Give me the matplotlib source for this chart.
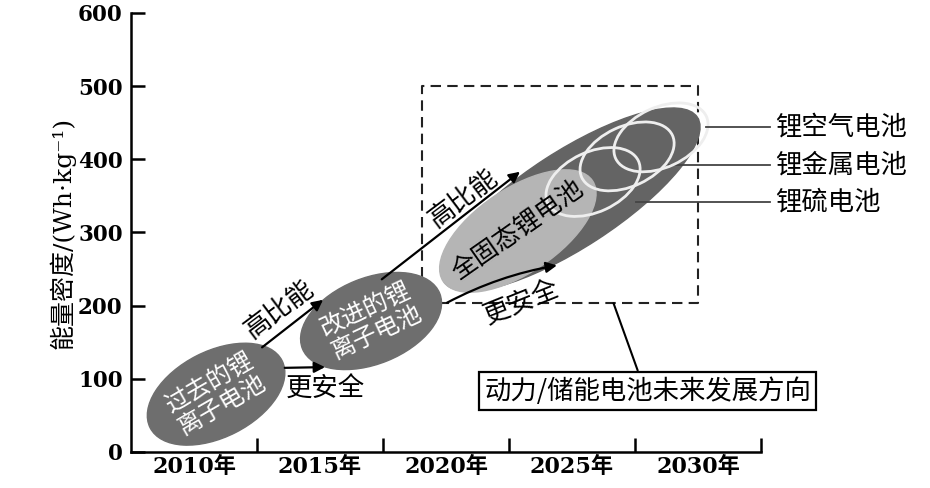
import matplotlib
matplotlib.use('Agg')
import matplotlib.pyplot as plt
from matplotlib.patches import Ellipse
from matplotlib.transforms import ScaledTranslation

plt.rcParams['font.family'] = ['DejaVu Serif', 'Noto Sans CJK SC', 'DejaVu Sans']
CJK = ['Noto Sans CJK SC', 'DejaVu Sans']

# ---- data ----
years = ['2010年', '2015年', '2020年', '2025年', '2030年']
y_ticks = [0, 100, 200, 300, 400, 500, 600]

# battery generations: (x position in year-slots, energy density Wh/kg)
gen_names = ['过去的锂\n离子电池', '改进的锂\n离子电池']
gen_x = [0.675, 1.905]
gen_y = [79, 179]

future_x = 3.49          # big dark ellipse (future directions)
future_y = 345
solid_name = '全固态锂电池'
solid_x = 3.07
solid_y = 302

ring_names = ['锂硫电池', '锂金属电池', '锂空气电池']
ring_x = [3.667, 3.937, 4.206]
ring_y = [369, 404, 430]
ring_label_y = [342, 392, 444]
ring_edge_x = [4.01, 4.27, 4.56]

# arrows: (start x, start y, end x, end y)
arrows = [
    (1.04, 143, 1.524, 208),
    (1.22, 115, 1.54, 116),
    (1.99, 236, 3.087, 383),
    (2.508, 204, 3.38, 255),
]
arrow_text = ['高比能', '更安全', '高比能', '更安全']
arrow_text_x = [1.175, 1.54, 2.635, 3.10]
arrow_text_y = [194, 86, 346, 204]
arrow_text_rot = [37, 0, 37, 22]

box_x = [2.31, 4.50]
box_y = [203, 500]
note_text = '动力/储能电池未来发展方向'
note_x, note_y = 4.10, 83
note_link = (3.83, 203, 4.02, 112)

fig = plt.figure(figsize=(9.3, 4.88), dpi=100)
ax = fig.add_axes([0.1409, 0.0738, 0.6774, 0.8996])
ax.set_xlim(0, 5)
ax.set_ylim(0, 600)

for s in ['top', 'right']:
    ax.spines[s].set_visible(False)
for s in ['left', 'bottom']:
    ax.spines[s].set_linewidth(1.8)

ax.set_yticks(y_ticks)
ax.set_yticklabels([str(v) for v in y_ticks], fontsize=15.5, fontweight='bold')
ax.tick_params(axis='y', direction='in', length=10, width=1.8, pad=6)
ax.set_xticks([1, 2, 3, 4, 5])
ax.set_xticklabels([])
ax.set_xticks([0.5, 1.5, 2.5, 3.5, 4.5], minor=True)
ax.set_xticklabels(years, minor=True, fontsize=16, fontweight='bold')
ax.tick_params(axis='x', which='major', direction='in', length=10, width=1.8)
ax.tick_params(axis='x', which='minor', length=0, pad=3)
ax.set_ylabel('能量密度/(Wh·kg⁻¹)', fontsize=18, labelpad=2)


def ellipse(x, y, w, h, ang, **kw):
    # size in pixels (inches*100), centre in data coordinates
    tr = fig.dpi_scale_trans + ScaledTranslation(x, y, ax.transData)
    e = Ellipse((0, 0), w / 100, h / 100, angle=ang, transform=tr, **kw)
    ax.add_patch(e)
    return e


# dashed frame
ax.plot([box_x[0], box_x[1], box_x[1], box_x[0], box_x[0]],
        [box_y[0], box_y[0], box_y[1], box_y[1], box_y[0]],
        ls=(0, (5, 3)), color='#222222', lw=1.5, zorder=1, clip_on=False)

# past / improved li-ion
gen_ang = [27, 22]
for i in range(2):
    ellipse(gen_x[i], gen_y[i], 148, 86, gen_ang[i], color='#6e6e6e', zorder=2)
    ax.text(gen_x[i], gen_y[i], gen_names[i], family=CJK, fontsize=17.5, color='white',
            rotation=gen_ang[i] + 3, ha='center', va='center', linespacing=0.95,
            rotation_mode='anchor', zorder=5)

# future directions
ellipse(future_x, future_y, 302, 96, 33, color='#646464', zorder=2)
ellipse(solid_x, solid_y, 180, 84, 34, color='#b5b5b5', zorder=3)
ax.text(solid_x, solid_y, solid_name, family=CJK, fontsize=18.5, color='black',
        rotation=35, ha='center', va='center', rotation_mode='anchor', zorder=5)
for i in range(3):
    ellipse(ring_x[i], ring_y[i], 100, 60, 25, fill=False, ec='#eeeeee', lw=2, zorder=4)
    ax.plot([ring_edge_x[i], 5.07], [ring_label_y[i], ring_label_y[i]],
            color='#444444', lw=1.3, clip_on=False, zorder=4)
    ax.text(5.11, ring_label_y[i], ring_names[i], family=CJK, fontsize=19,
            ha='left', va='center', clip_on=False)

# arrows + labels
for i in range(4):
    x0, y0, x1, y1 = arrows[i]
    rad = -0.08 if i == 3 else 0
    ax.annotate('', xy=(x1, y1), xytext=(x0, y0),
                arrowprops=dict(arrowstyle='-|>', color='black', lw=1.6,
                                mutation_scale=16, shrinkA=0, shrinkB=0,
                                connectionstyle='arc3,rad=%s' % rad),
                zorder=5)
    ax.text(arrow_text_x[i], arrow_text_y[i], arrow_text[i], family=CJK, fontsize=19,
            rotation=arrow_text_rot[i], ha='center', va='center',
            rotation_mode='anchor', zorder=5)

# note box
ax.plot([note_link[0], note_link[2]], [note_link[1], note_link[3]],
        color='black', lw=1.5, zorder=1)
ax.text(note_x, note_y, note_text, family=CJK, fontsize=19, ha='center', va='center',
        clip_on=False, zorder=6,
        bbox=dict(boxstyle='square,pad=0.2', fc='white', ec='black', lw=1.6))

fig.savefig('out.png', dpi=100, facecolor='white')
